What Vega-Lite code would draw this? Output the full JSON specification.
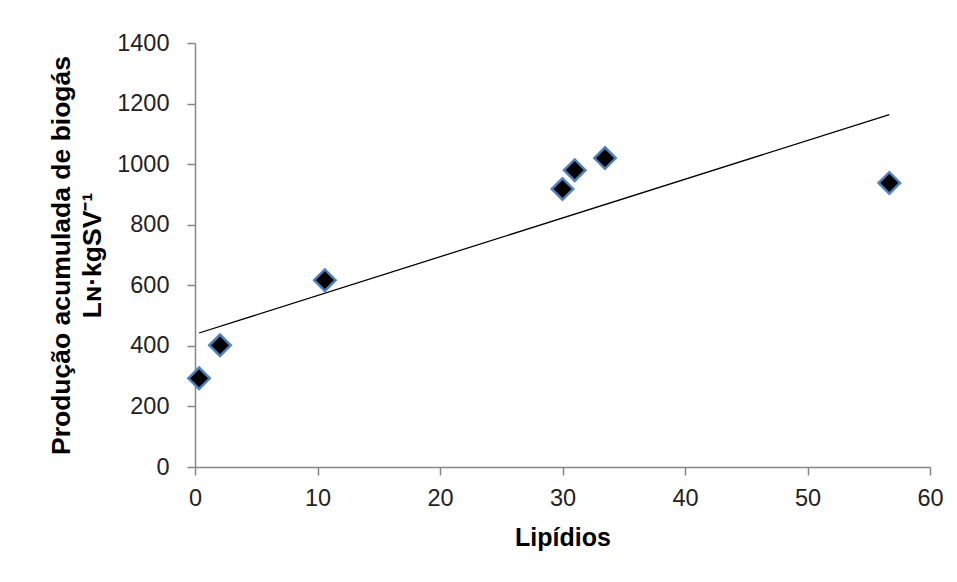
{
  "$schema": "https://vega.github.io/schema/vega-lite/v6.json",
  "width": 735,
  "height": 424,
  "autosize": "none",
  "padding": {"left": 195, "top": 43, "right": 27, "bottom": 115},
  "background": "white",
  "config": {
    "view": {"stroke": null},
    "axis": {
      "grid": false,
      "domainColor": "#868686",
      "tickColor": "#868686",
      "domainWidth": 1.5,
      "tickWidth": 1.5,
      "tickSize": 8,
      "labelFont": "Liberation Sans",
      "labelFontSize": 23.5,
      "labelColor": "#222222",
      "titleFont": "Liberation Sans",
      "titleFontWeight": "bold",
      "titleColor": "#000000"
    }
  },
  "data": {
    "values": [
      {"lipidios": 0.33, "biogas": 293},
      {"lipidios": 2.04, "biogas": 402},
      {"lipidios": 10.6, "biogas": 617},
      {"lipidios": 30.0, "biogas": 918},
      {"lipidios": 31.0, "biogas": 980},
      {"lipidios": 33.47, "biogas": 1020},
      {"lipidios": 56.68, "biogas": 938}
    ]
  },
  "layer": [
    {
      "transform": [{"regression": "biogas", "on": "lipidios"}],
      "mark": {"type": "line", "color": "#000000", "strokeWidth": 1.3},
      "encoding": {
        "x": {"field": "lipidios", "type": "quantitative"},
        "y": {"field": "biogas", "type": "quantitative"}
      }
    },
    {
      "mark": {"type": "point", "shape": "diamond", "filled": true, "fill": "#000000", "stroke": "#4F81BD", "strokeWidth": 2.5, "size": 460, "opacity": 1},
      "encoding": {
        "x": {
          "field": "lipidios",
          "type": "quantitative",
          "scale": {"domain": [0, 60], "nice": false, "zero": true},
          "axis": {"values": [0, 10, 20, 30, 40, 50, 60], "format": "d", "title": "Lipídios", "titleFontSize": 25, "labelPadding": 11, "titlePadding": 16, "labelFlush": false}
        },
        "y": {
          "field": "biogas",
          "type": "quantitative",
          "scale": {"domain": [0, 1400], "nice": false},
          "axis": {"values": [0, 200, 400, 600, 800, 1000, 1200, 1400], "format": "d", "title": ["Produção acumulada de biogás", "Lɴ·kgSV⁻¹"], "titleFontSize": 26.5, "titleLineHeight": 31, "labelPadding": 18, "titlePadding": 10, "labelFlush": false}
        }
      }
    }
  ]
}
